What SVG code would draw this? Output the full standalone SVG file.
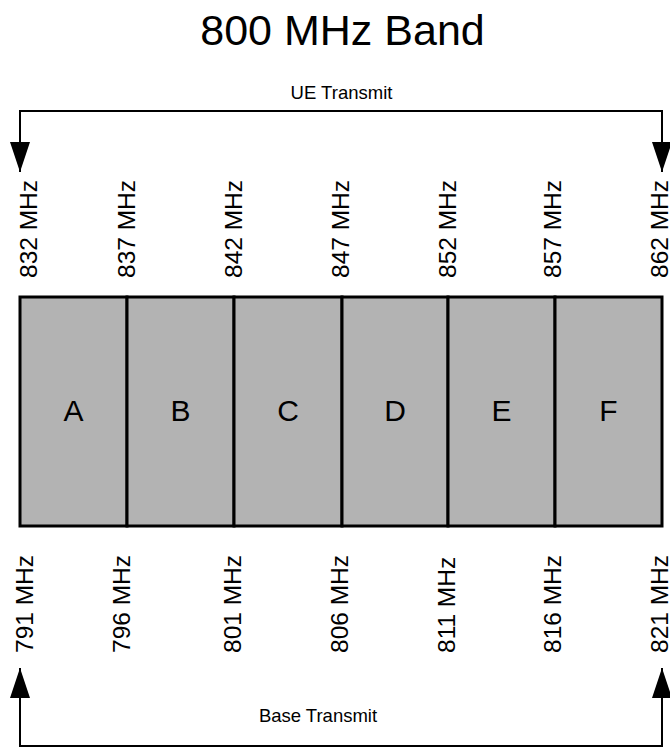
<svg xmlns="http://www.w3.org/2000/svg" width="670" height="747" viewBox="0 0 670 747">
<defs>
<style>
text{font-family:"Liberation Sans",Arial,sans-serif;fill:#000}
.t{font-size:43px;text-anchor:middle}
.f{font-size:24.5px}
.l{font-size:18.5px;text-anchor:middle}
.c{font-size:30px;text-anchor:middle}
.cell{fill:#b3b3b3;stroke:#000;stroke-width:3}
.ln{fill:none;stroke:#000;stroke-width:2}
</style>
<marker id="ah" viewBox="0 0 30 20" refX="30" refY="10" markerWidth="30" markerHeight="20" markerUnits="userSpaceOnUse" orient="auto-start-reverse">
<path d="M0,0 L30,10 L0,20 Z" fill="#000"/>
</marker>
</defs>
<rect width="670" height="747" fill="#fff"/>
<text class="t" x="342.5" y="45">800 MHz Band</text>
<g id="connectors">
<path class="ln" d="M20,172 V111 H662 V172" marker-start="url(#ah)" marker-end="url(#ah)"/>
<path class="ln" d="M20,668 V746 H662 V668" marker-start="url(#ah)" marker-end="url(#ah)"/>
</g>
<g id="ue-transmit"><text class="l" x="341.5" y="99">UE Transmit</text></g>
<g id="base-transmit"><text class="l" x="318" y="722">Base Transmit</text></g>
<g id="band">
<g id="A"><rect class="cell" x="20" y="297" width="107" height="229"/><text class="c" x="73.5" y="421">A</text></g>
<g id="B"><rect class="cell" x="127" y="297" width="107" height="229"/><text class="c" x="180.5" y="421">B</text></g>
<g id="C"><rect class="cell" x="234" y="297" width="108" height="229"/><text class="c" x="288" y="421">C</text></g>
<g id="D"><rect class="cell" x="342" y="297" width="106" height="229"/><text class="c" x="395" y="421">D</text></g>
<g id="E"><rect class="cell" x="448" y="297" width="107" height="229"/><text class="c" x="501.5" y="421">E</text></g>
<g id="F"><rect class="cell" x="555" y="297" width="107" height="229"/><text class="c" x="608.5" y="421">F</text></g>
</g>
<g id="top-labels">
<text class="f" transform="translate(36.5,278) rotate(-90)">832 MHz</text>
<text class="f" transform="translate(135,278) rotate(-90)">837 MHz</text>
<text class="f" transform="translate(242,278) rotate(-90)">842 MHz</text>
<text class="f" transform="translate(349,278) rotate(-90)">847 MHz</text>
<text class="f" transform="translate(456,278) rotate(-90)">852 MHz</text>
<text class="f" transform="translate(561,278) rotate(-90)">857 MHz</text>
<text class="f" transform="translate(668,278) rotate(-90)">862 MHz</text>
</g>
<g id="bottom-labels">
<text class="f" transform="translate(33,653) rotate(-90)">791 MHz</text>
<text class="f" transform="translate(130,653) rotate(-90)">796 MHz</text>
<text class="f" transform="translate(241,653) rotate(-90)">801 MHz</text>
<text class="f" transform="translate(348,653) rotate(-90)">806 MHz</text>
<text class="f" transform="translate(455,653) rotate(-90)">811 MHz</text>
<text class="f" transform="translate(561,653) rotate(-90)">816 MHz</text>
<text class="f" transform="translate(668,653) rotate(-90)">821 MHz</text>
</g>
</svg>
